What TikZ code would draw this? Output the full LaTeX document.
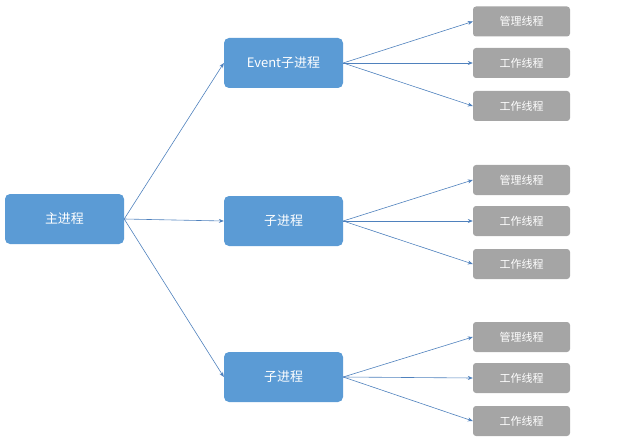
\documentclass[tikz,border=0pt]{standalone}
\usepackage{fontspec}
\setmainfont{Noto Sans CJK SC}
\usetikzlibrary{arrows.meta, positioning}
\definecolor{procblue}{HTML}{5B9BD5}
\definecolor{thrgray}{HTML}{A5A5A5}
\definecolor{linkblue}{HTML}{4F81BD}
\begin{document}
\begin{tikzpicture}[
      x=1pt, y=-1pt,
      proc/.style={fill=procblue, rounded corners=5pt, text=white, minimum width=119pt, minimum height=50pt, font=\fontsize{13}{15}\selectfont},
      thr/.style={fill=thrgray, rounded corners=3pt, text=white, minimum width=97pt, minimum height=30pt, font=\fontsize{11}{13}\selectfont},
      arr/.style={-{Stealth[length=5pt,width=4pt]}, linkblue, line width=0.6pt}
    ]
\useasboundingbox (0,0) rectangle (640,441);

% Processes
      \node[proc] (main) at (64.5,219) {主进程};
      \node[proc] (evt) at (283.5,63) {Event子进程};
      \node[proc] (subA) at (283.5,221) {子进程};
      \node[proc] (subB) at (283.5,377) {子进程};

% Threads
      \node[thr] (evtM) at (521.5,21.5) {管理线程};
      \node[thr] (evtW1) at (521.5,63) {工作线程};
      \node[thr] (evtW2) at (521.5,106) {工作线程};
      \node[thr] (subAM) at (521.5,180) {管理线程};
      \node[thr] (subAW1) at (521.5,221) {工作线程};
      \node[thr] (subAW2) at (521.5,264) {工作线程};
      \node[thr] (subBM) at (521.5,337) {管理线程};
      \node[thr] (subBW1) at (521.5,378) {工作线程};
      \node[thr] (subBW2) at (521.5,421) {工作线程};

% Arrows
      \foreach \p in {evt, subA, subB}
        \draw[arr] (main.east) -- (\p.west);
      \foreach \p in {evt, subA, subB}
        \foreach \t in {M, W1, W2}
          \draw[arr] (\p.east) -- (\p\t.west);
    \end{tikzpicture}
\end{document}
